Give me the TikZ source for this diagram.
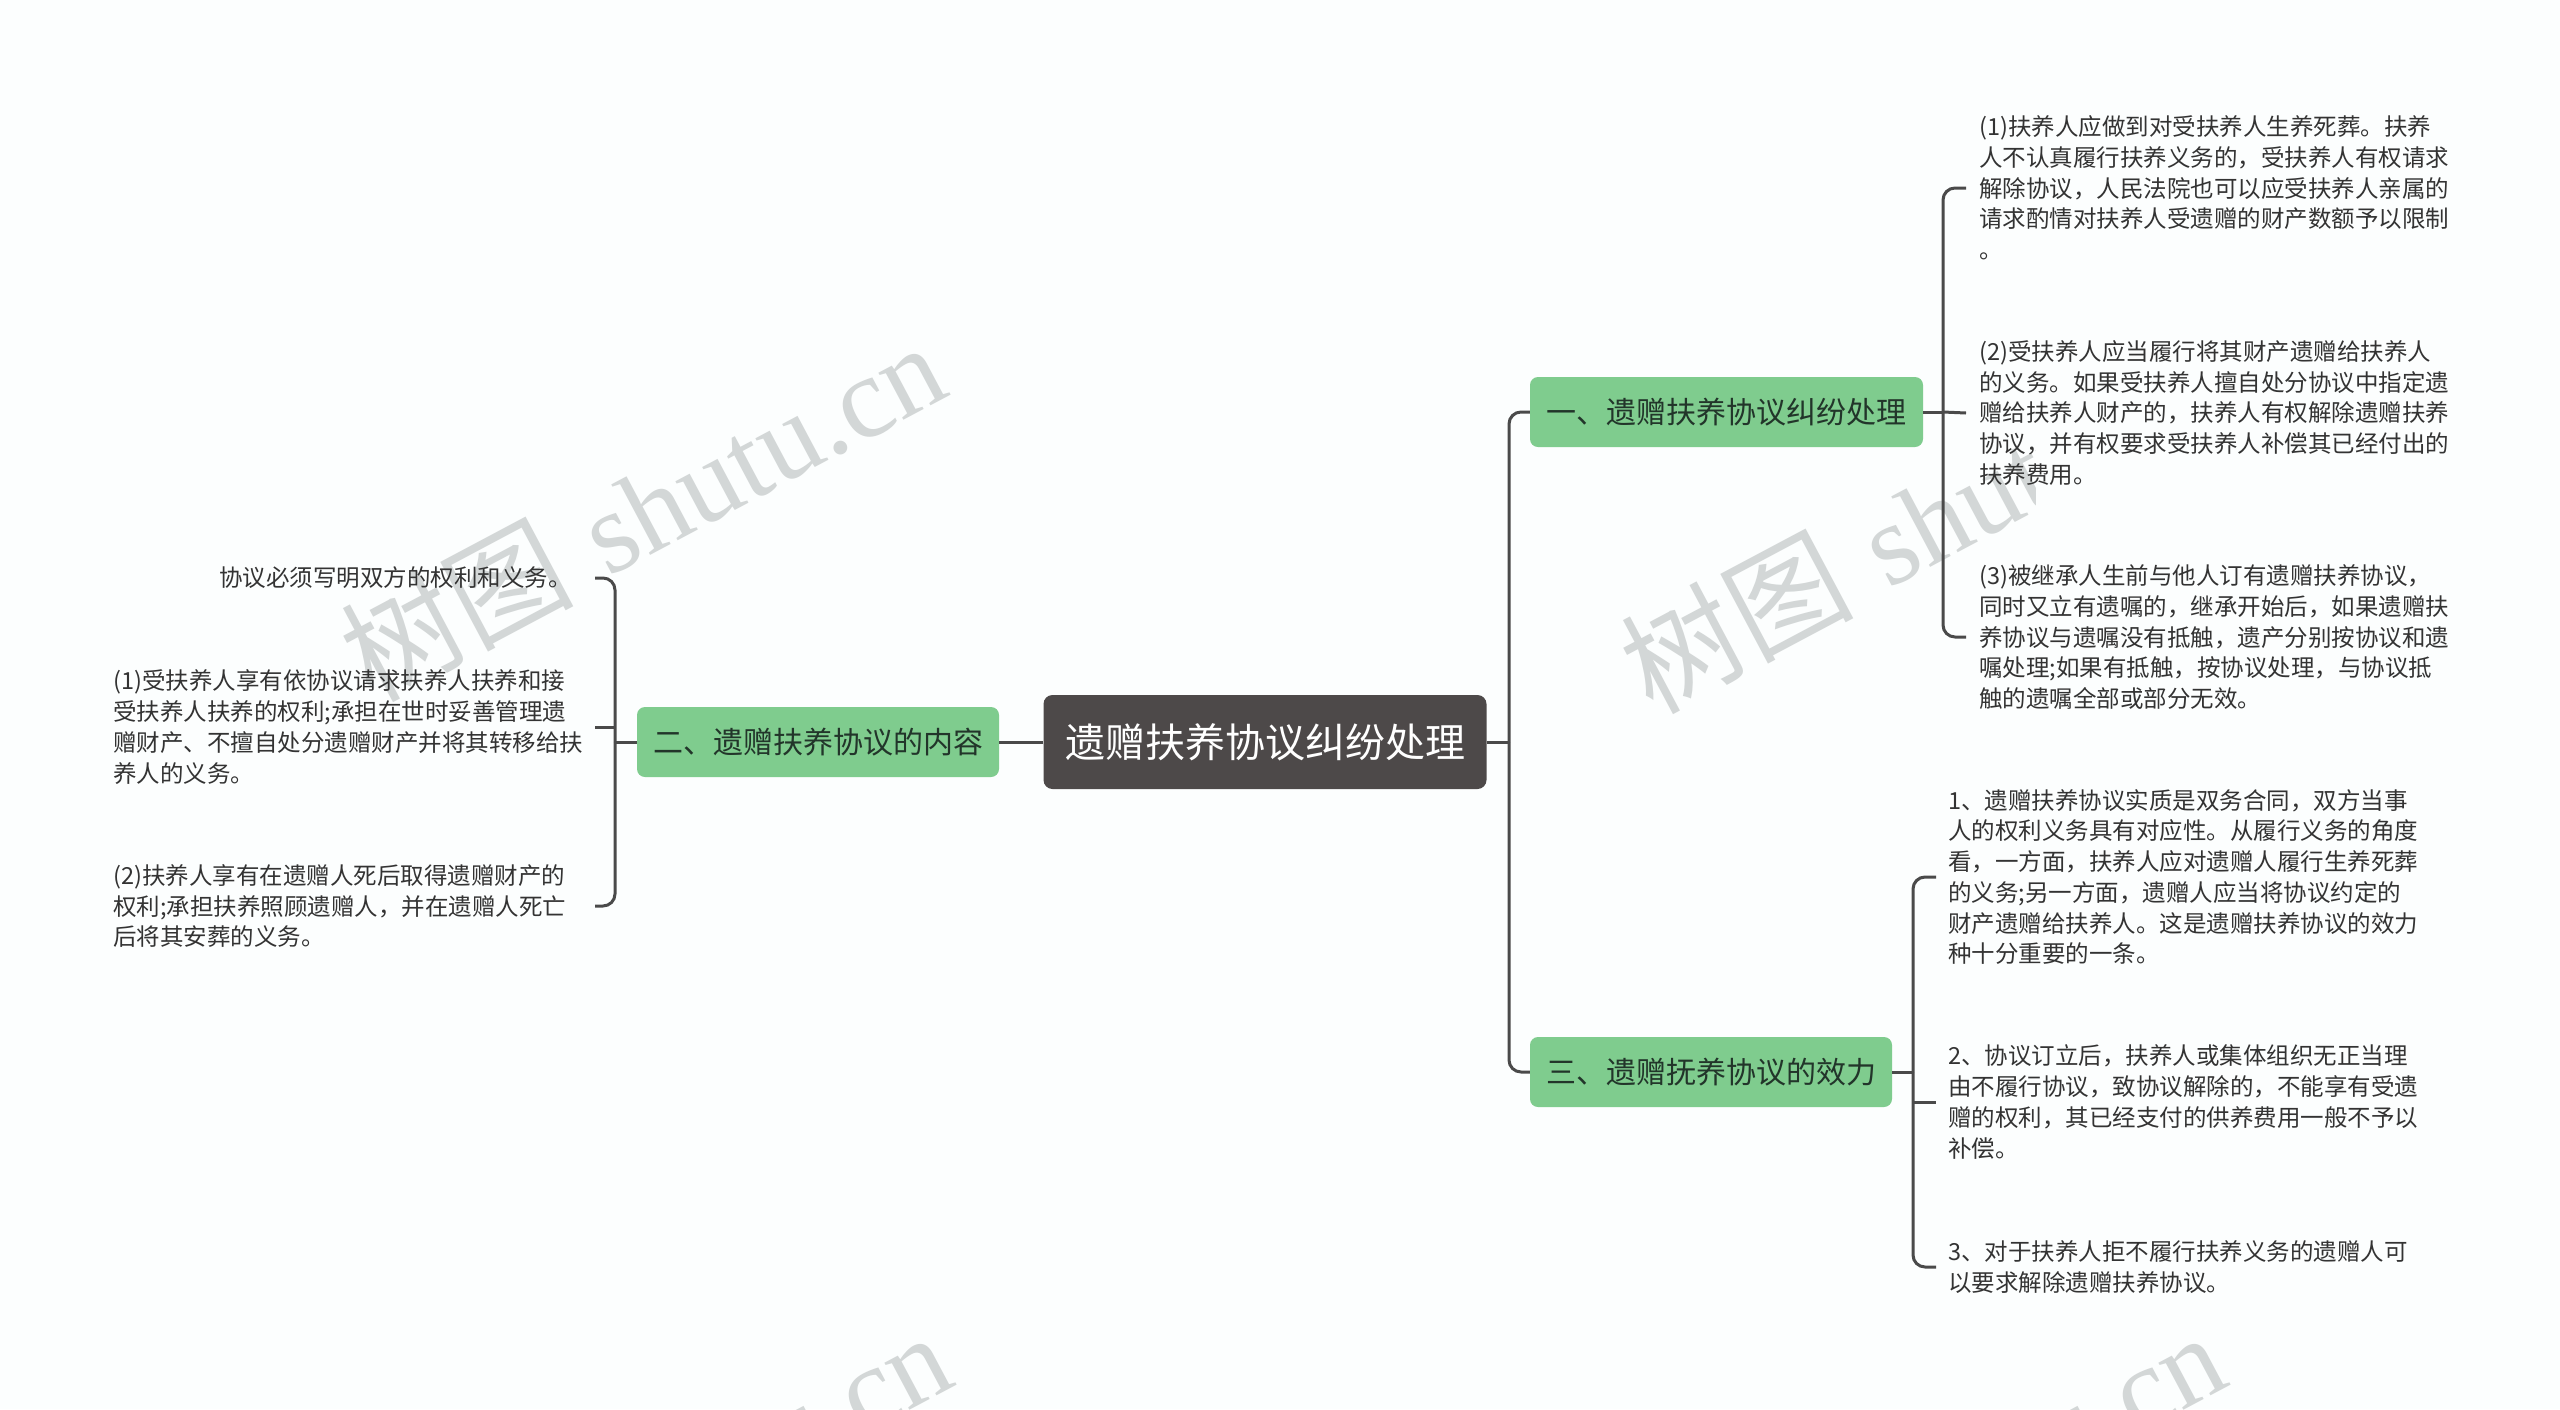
\documentclass[tikz,border=0pt]{standalone}
\usepackage{fontspec}
\newfontfamily\cjk{Noto Sans CJK SC}
\newfontfamily\wmserif{Liberation Serif}
\usetikzlibrary{calc}
\definecolor{bgcol}{HTML}{FCFEFE}
\definecolor{rootfill}{HTML}{4D4949}
\definecolor{brfill}{HTML}{7FCC8E}
\definecolor{brtext}{HTML}{22352A}
\definecolor{linecol}{HTML}{4A4A4A}
\definecolor{leaftext}{HTML}{333333}
\definecolor{wmcol}{HTML}{D3D7D7}
\begin{document}
\begin{tikzpicture}[x=1pt,y=-1pt,
  rootnode/.style={fill=rootfill, rounded corners=9pt, text=white, font=\cjk\fontsize{40}{48}\selectfont, minimum width=443pt, minimum height=94pt, inner sep=0pt},
  branch/.style={fill=brfill, rounded corners=8pt, text=brtext, font=\cjk\fontsize{30}{36}\selectfont, minimum height=70pt, inner sep=0pt},
  leaf/.style={inner sep=0pt, align=left, text=leaftext, font=\cjk\fontsize{23.5}{30.7}\selectfont},
  conn/.style={draw=linecol, line width=3pt, rounded corners=12pt},
  wmark/.style={text=wmcol, inner sep=0pt, rotate=28, font=\fontsize{116}{126}\selectfont}]
\useasboundingbox (0,0) rectangle (2560,1409);
\fill[bgcol] (0,0) rectangle (2560,1409);

% watermarks
\begin{scope}
\clip (0,0) rectangle (2560,1409);
\node[wmark] (wm1) at (642,510) {{\cjk 树图} {\wmserif shutu.cn}};
\node[wmark] (wm3) at (648,1500) {{\cjk 树图} {\wmserif shutu.cn}};
\node[wmark] (wm4) at (1922,1500) {{\cjk 树图} {\wmserif shutu.cn}};
\end{scope}
\begin{scope}
\clip (0,0) rectangle (2035,1409);
\node[wmark] (wm2) at (1922,522) {{\cjk 树图} {\wmserif shutu.cn}};
\end{scope}

% main nodes
\node[rootnode] (root) at (1265,742) {遗赠扶养协议纠纷处理};
\node[branch, minimum width=393pt] (b1) at (1726.5,412) {一、遗赠扶养协议纠纷处理};
\node[branch, minimum width=362pt] (b3) at (1711,1072) {三、遗赠抚养协议的效力};
\node[branch, minimum width=362pt] (b2) at (818,742) {二、遗赠扶养协议的内容};

% right leaves of b1
\node[leaf, anchor=west] (r1) at (1979,188) {(1)扶养人应做到对受扶养人生养死葬。扶养\\人不认真履行扶养义务的，受扶养人有权请求\\解除协议，人民法院也可以应受扶养人亲属的\\请求酌情对扶养人受遗赠的财产数额予以限制\\。};
\node[leaf, anchor=west] (r2) at (1979,413) {(2)受扶养人应当履行将其财产遗赠给扶养人\\的义务。如果受扶养人擅自处分协议中指定遗\\赠给扶养人财产的，扶养人有权解除遗赠扶养\\协议，并有权要求受扶养人补偿其已经付出的\\扶养费用。};
\node[leaf, anchor=west] (r3) at (1979,637) {(3)被继承人生前与他人订有遗赠扶养协议，\\同时又立有遗嘱的，继承开始后，如果遗赠扶\\养协议与遗嘱没有抵触，遗产分别按协议和遗\\嘱处理;如果有抵触，按协议处理，与协议抵\\触的遗嘱全部或部分无效。};

% right leaves of b3
\node[leaf, anchor=west] (t1) at (1948,877) {1、遗赠扶养协议实质是双务合同，双方当事\\人的权利义务具有对应性。从履行义务的角度\\看，一方面，扶养人应对遗赠人履行生养死葬\\的义务;另一方面，遗赠人应当将协议约定的\\财产遗赠给扶养人。这是遗赠扶养协议的效力\\种十分重要的一条。};
\node[leaf, anchor=west] (t2) at (1948,1102) {2、协议订立后，扶养人或集体组织无正当理\\由不履行协议，致协议解除的，不能享有受遗\\赠的权利，其已经支付的供养费用一般不予以\\补偿。};
\node[leaf, anchor=west] (t3) at (1948,1267) {3、对于扶养人拒不履行扶养义务的遗赠人可\\以要求解除遗赠扶养协议。};

% left leaves of b2
\node[leaf, anchor=east] (l0) at (572,578) {协议必须写明双方的权利和义务。};
\node[leaf, anchor=west] (l1) at (113,727) {(1)受扶养人享有依协议请求扶养人扶养和接\\受扶养人扶养的权利;承担在世时妥善管理遗\\赠财产、不擅自处分遗赠财产并将其转移给扶\\养人的义务。};
\node[leaf, anchor=west] (l2) at (113,906) {(2)扶养人享有在遗赠人死后取得遗赠财产的\\权利;承担扶养照顾遗赠人，并在遗赠人死亡\\后将其安葬的义务。};

% junctions and tick ends
\coordinate (rj) at (1509,742);
\coordinate (j1) at (1943,412);
\coordinate (j3) at (1913,1072);
\coordinate (jL) at (615,742);
\coordinate (rx) at (1966,0);
\coordinate (tx) at (1936,0);
\coordinate (lx) at (595,0);

% root connectors
\draw[conn] (root.west) -- (b2.east);
\draw[conn] (root.east) -- (rj);
\draw[conn] (b1.west) -| (rj);
\draw[conn] (rj) |- (b3.west);

% b1 bracket
\draw[conn] (b1.east) -- (j1);
\draw[conn] (r1 -| rx) -| (j1);
\draw[conn] (j1) |- (r3 -| rx);
\draw[conn] (j1) -- (r2 -| rx);

% b3 bracket
\draw[conn] (b3.east) -- (j3);
\draw[conn] (t1 -| tx) -| (j3);
\draw[conn] (j3) |- (t3 -| tx);
\draw[conn] (t2 -| j3) -- (t2 -| tx);

% b2 bracket
\draw[conn] (b2.west) -- (jL);
\draw[conn] (l0 -| lx) -| (jL);
\draw[conn] (jL) |- (l2 -| lx);
\draw[conn] (l1 -| jL) -- (l1 -| lx);
\end{tikzpicture}
\end{document}
